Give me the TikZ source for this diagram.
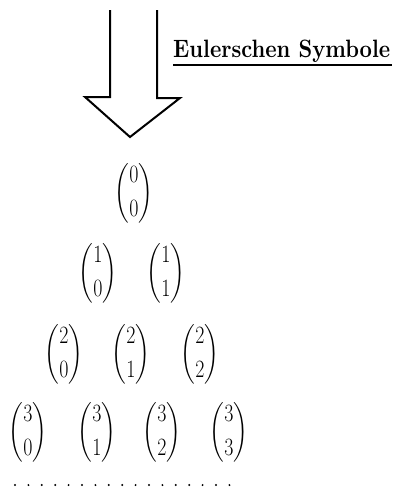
\documentclass[tikz,border=0pt]{standalone}
\usepackage{amsmath}
\usepackage{graphicx}
\newcommand{\bnm}[2]{\scalebox{0.8}[1]{$\displaystyle\binom{#1}{#2}$}}
\begin{document}
\begin{tikzpicture}[x=1pt,y=-1pt,
  binom/.style={inner sep=0pt,font=\fontsize{26.5}{31}\selectfont},
  arrowline/.style={line width=2pt,line join=miter},
  dot/.style={fill=black,inner sep=0pt,minimum size=2.2pt,circle}]
\useasboundingbox (0,0) rectangle (394,493);
% big hollow arrow
\draw[arrowline] (110,10) -- (110,97) -- (85,97) -- (130,137) -- (180,98) -- (157,98) -- (157,10);
% title
\node[anchor=base west,inner sep=0pt] (title) at (173,57)
  {\resizebox{217pt}{17.5pt}{\bfseries Eulerschen Symbole}};
\coordinate (ulA) at (173,65);
\coordinate (ulB) at (392,65);
\draw[line width=1.5pt] (ulA) -- (ulB);
% binomials
\node[binom] (b00) at (134,193) {\bnm{0}{0}};
\node[binom] (b10) at (98,273) {\bnm{1}{0}};
\node[binom] (b11) at (166,273) {\bnm{1}{1}};
\node[binom] (b20) at (64,354) {\bnm{2}{0}};
\node[binom] (b21) at (131,354) {\bnm{2}{1}};
\node[binom] (b22) at (200,354) {\bnm{2}{2}};
\node[binom] (b30) at (28,432) {\bnm{3}{0}};
\node[binom] (b31) at (97,432) {\bnm{3}{1}};
\node[binom] (b32) at (162,432) {\bnm{3}{2}};
\node[binom] (b33) at (229,432) {\bnm{3}{3}};
% dotted line
\foreach \i in {0,...,16} {
  \node[dot] (d\i) at ({15+\i*13.4},485) {};
}
\end{tikzpicture}
\end{document}
